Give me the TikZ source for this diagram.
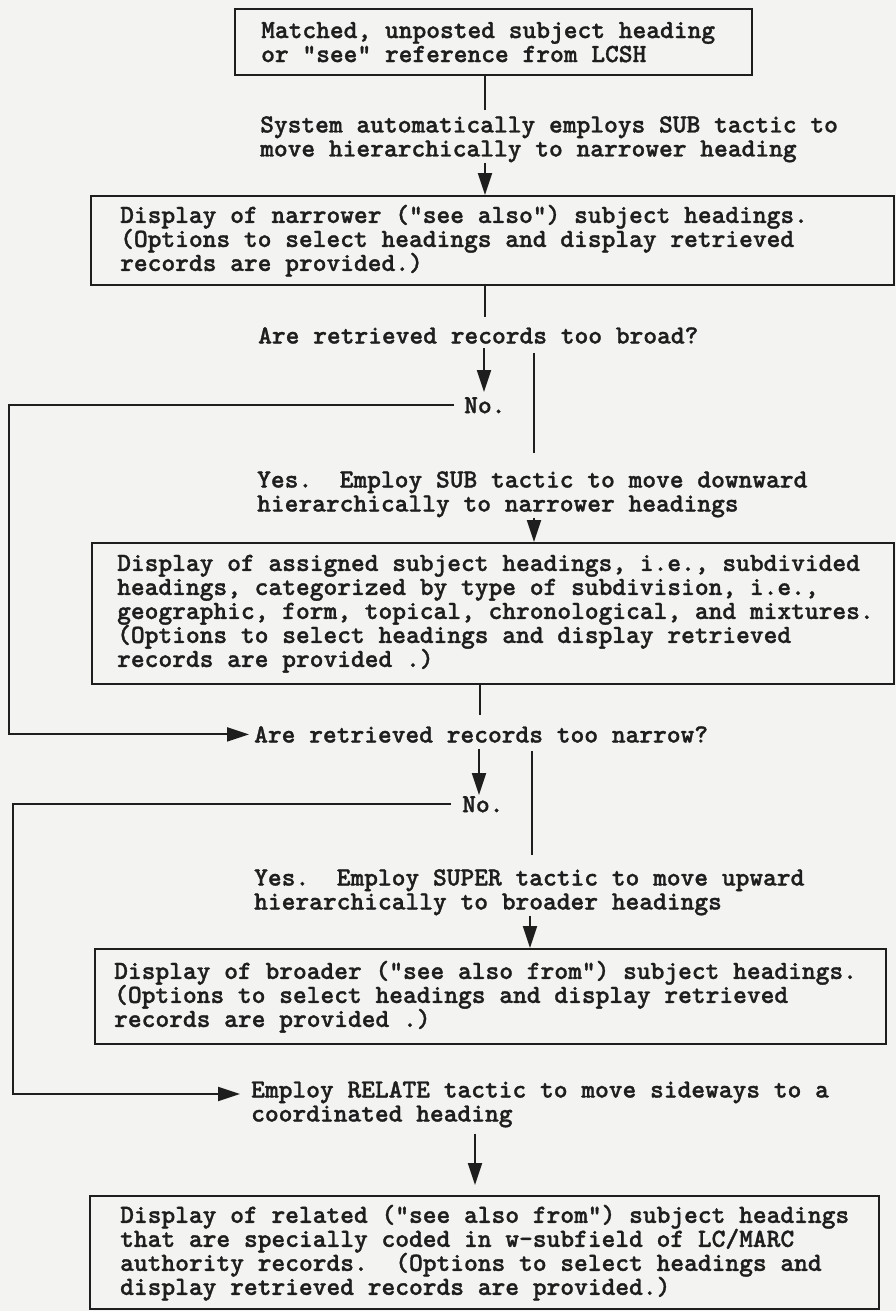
\documentclass[tikz,border=0pt]{standalone}
\usepackage{fontspec}
\usetikzlibrary{arrows.meta}
\newfontfamily\tyf{lmmonolt10-bold.otf}[FakeBold=1.2]
\definecolor{paper}{RGB}{243,243,241}
\definecolor{ink}{RGB}{30,30,30}
\newcommand\tfont{\tyf\fontsize{26.2}{24}\selectfont\frenchspacing}
\newcommand\li[1]{\mbox{\spaceskip=0pt\xspaceskip=0pt #1}}
\begin{document}
\begin{tikzpicture}[x=1pt,y=-1pt,
  txt/.style={anchor=north west,inner sep=0pt,align=left,font=\tfont,text=ink},
  bx/.style={draw=ink,line width=2.4pt,anchor=north west,inner ysep=0pt,align=left,font=\tfont,text=ink},
  conn/.style={draw=ink,line width=2pt},
  arr/.style={conn,-{Triangle[length=22pt,width=14pt]}}]
\fill[paper] (0,0) rectangle (896,1311);
\useasboundingbox (0,0) rectangle (896,1311);

% boxes
\node[bx,minimum width=517pt,minimum height=66pt,inner xsep=26pt,text width=465pt] (B1) at (234,8)
 {\li{Matched, unposted subject heading}\\\li{or "see" reference from LCSH}};
\node[bx,minimum width=803pt,minimum height=89pt,inner xsep=29pt,text width=745pt] (B2) at (90,195)
 {\li{Display of narrower ("see also") subject headings.}\\\li{(Options to select headings and display retrieved}\\\li{records are provided.)}};
\node[bx,minimum width=802pt,minimum height=141pt,inner xsep=25pt,text width=752pt] (B3) at (91,542)
 {\li{Display of assigned subject headings, i.e., subdivided}\\\li{headings, categorized by type of subdivision, i.e.,}\\\li{geographic, form, topical, chronological, and mixtures.}\\\li{(Options to select headings and display retrieved}\\\li{records are provided .)}};
\node[bx,minimum width=791pt,minimum height=95pt,inner xsep=19pt,text width=753pt] (B4) at (94,948)
 {\li{Display of broader ("see also from") subject headings.}\\\li{(Options to select headings and display retrieved}\\\li{records are provided .)}};
\node[bx,minimum width=789pt,minimum height=113pt,inner xsep=30pt,text width=729pt] (B5) at (89,1195)
 {\li{Display of related ("see also from") subject headings}\\\li{that are specially coded in w-subfield of LC/MARC}\\\li{authority records.~~(Options to select headings and}\\\li{display retrieved records are provided.)}};

% free texts
\node[txt] (T1) at (260,116) {System automatically employs SUB tactic to\\move hierarchically to narrower heading};
\node[txt] (T2) at (258,327) {Are retrieved records too broad?};
\node[txt] (No1) at (464,397) {No.};
\node[txt] (T3) at (257,471) {Yes.~~Employ SUB tactic to move downward\\hierarchically to narrower headings};
\node[txt] (T4) at (254,726) {Are retrieved records too narrow?};
\node[txt] (No2) at (462,796) {No.};
\node[txt] (T5) at (254,869) {Yes.~~Employ SUPER tactic to move upward\\hierarchically to broader headings};
\node[txt] (T6) at (251,1081) {Employ RELATE tactic to move sideways to a\\coordinated heading};

% connectors
\draw[conn,shorten >=6pt] (485,0 |- B1.south) -- (485,0 |- T1.north);
\draw[arr] (485,0 |- T1.south) -- (485,0 |- B2.north);
\draw[conn,shorten >=10pt] (485,0 |- B2.south) -- (485,0 |- T2.north);
\draw[arr,shorten <=4pt,shorten >=5pt] (484,0 |- T2.south) -- (484,0 |- No1.north);
\draw[conn,shorten <=9pt,shorten >=18pt] (534,0 |- T2.south) -- (534,0 |- T3.north);
\coordinate (k1) at (9,0);
\draw[arr,shorten <=10pt,shorten >=5pt] (No1.west) -| (k1 |- T4.west) -- (T4.west);
\draw[arr] (534,0 |- T3.south) -- (534,0 |- B3.north);
\draw[conn,shorten >=11pt] (480,0 |- B3.south) -- (480,0 |- T4.north);
\draw[arr,shorten <=6pt,shorten >=1pt] (479,0 |- T4.south) -- (479,0 |- No2.north);
\draw[conn,shorten <=8pt,shorten >=14pt] (532,0 |- T4.south) -- (532,0 |- T5.north);
\coordinate (k2) at (13,0);
\coordinate (t6in) at ([yshift=-13pt]T6.north west);
\draw[arr,shorten <=11pt,shorten >=11pt] (No2.west) -| (k2 |- t6in) -- (t6in);
\draw[arr] (530,0 |- T5.south) -- (530,0 |- B4.north);
\draw[arr,shorten <=6pt,shorten >=10pt] (475,0 |- T6.south) -- (475,0 |- B5.north);
\end{tikzpicture}
\end{document}
